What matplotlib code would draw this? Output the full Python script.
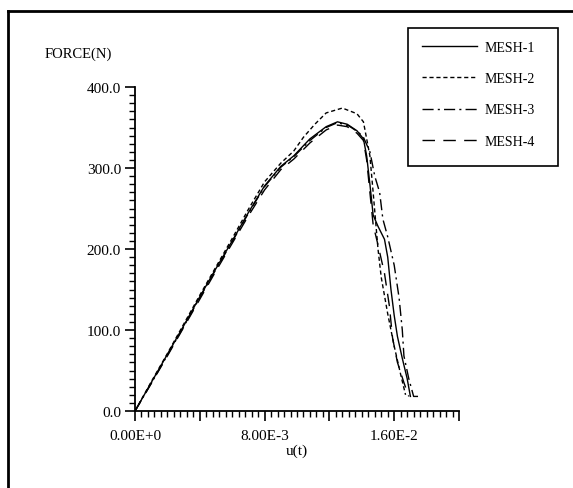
import matplotlib
matplotlib.use("Agg")
import matplotlib.pyplot as plt
from matplotlib.lines import Line2D
from matplotlib.patches import Rectangle
from matplotlib.ticker import MultipleLocator, FuncFormatter

plt.rcParams['font.family'] = ['Liberation Serif', 'DejaVu Serif']

# ---- data (u in m, force in N) ----
mesh1_u = [0, 0.001, 0.002, 0.003, 0.004, 0.005, 0.006, 0.007, 0.008, 0.009, 0.0098, 0.0108,
           0.0118, 0.0125, 0.0131, 0.0137, 0.0141, 0.0143, 0.0145, 0.0147, 0.0150, 0.0154,
           0.0156, 0.0158, 0.0160, 0.0162, 0.0165, 0.0168, 0.0170]
mesh1_f = [0, 35, 70, 105, 141, 176, 210, 245, 278, 302, 315, 336,
           351, 357, 354, 346, 336, 315, 280, 242, 228, 212,
           190, 150, 118, 92, 65, 40, 18]

mesh2_u = [0, 0.001, 0.002, 0.003, 0.004, 0.005, 0.006, 0.007, 0.008, 0.009, 0.0098, 0.0104,
           0.0111, 0.0118, 0.0128, 0.0137, 0.0141, 0.0143, 0.0145, 0.0147, 0.0150, 0.0152,
           0.0156, 0.0160, 0.0164, 0.0167]
mesh2_f = [0, 36, 71, 107, 143, 178, 213, 249, 283, 306, 321, 338,
           354, 368, 374, 367, 357, 336, 315, 270, 200, 165,
           120, 80, 45, 20]

mesh3_u = [0, 0.001, 0.002, 0.003, 0.004, 0.005, 0.006, 0.007, 0.008, 0.009, 0.0098, 0.0108,
           0.0118, 0.0125, 0.0132, 0.0138, 0.0141, 0.0145, 0.0148, 0.0151, 0.0153, 0.0156,
           0.0160, 0.0163, 0.0165, 0.0166, 0.0169, 0.0172, 0.0175]
mesh3_f = [0, 34, 69, 104, 140, 175, 209, 244, 277, 301, 314, 334,
           350, 356, 352, 344, 338, 320, 290, 270, 237, 215,
           180, 140, 100, 68, 40, 18, 18]

mesh4_u = [0, 0.001, 0.002, 0.003, 0.004, 0.005, 0.006, 0.007, 0.008, 0.009, 0.0098, 0.0108,
           0.0118, 0.0125, 0.0131, 0.0137, 0.0141, 0.0143, 0.0145, 0.0147, 0.0150, 0.0154,
           0.0157, 0.0159, 0.0162, 0.0166, 0.0169]
mesh4_f = [0, 34, 68, 103, 138, 173, 207, 241, 273, 298, 311, 331,
           347, 353, 351, 343, 334, 310, 270, 230, 205, 170,
           130, 90, 60, 35, 18]

labels = ["MESH-1", "MESH-2", "MESH-3", "MESH-4"]
x_tick_labels = {0: "0.00E+0", 2: "8.00E-3", 4: "1.60E-2"}

W, H = 573, 489
fig = plt.figure(figsize=(W / 100, H / 100), dpi=100)
ax = fig.add_axes([135 / W, 1 - 412 / H, (459 - 135) / W, (412 - 88) / H])

styles = [
    dict(linestyle='-'),
    dict(linestyle=(0, (3, 2))),
    dict(linestyle=(0, (8, 3, 1.5, 3))),
    dict(linestyle=(0, (9, 6))),
]
series = [(mesh1_u, mesh1_f), (mesh2_u, mesh2_f), (mesh3_u, mesh3_f), (mesh4_u, mesh4_f)]
handles = []
for (u, f), st, lab in zip(series, styles, labels):
    h, = ax.plot(u, f, color='black', linewidth=1.0, label=lab, **st)
    handles.append(h)

ax.set_xlim(0, 0.02)
ax.set_ylim(0, 400)
for s in ['top', 'right']:
    ax.spines[s].set_visible(False)
for s in ['left', 'bottom']:
    ax.spines[s].set_linewidth(1.3)

ax.xaxis.set_major_locator(MultipleLocator(0.004))
ax.xaxis.set_minor_locator(MultipleLocator(0.0004))
ax.yaxis.set_major_locator(MultipleLocator(100))
ax.yaxis.set_minor_locator(MultipleLocator(10))


def xfmt(v, pos):
    k = int(round(v / 0.004))
    return x_tick_labels.get(k, "")


ax.xaxis.set_major_formatter(FuncFormatter(xfmt))
ax.yaxis.set_major_formatter(FuncFormatter(lambda v, p: f"{v:.1f}"))
ax.tick_params(which='major', direction='out', length=7, width=1.2, labelsize=11, pad=3)
ax.tick_params(which='minor', direction='out', length=4, width=1.0)
ax.tick_params(axis='x', which='major', pad=6)

ax.set_xlabel("u(t)", fontsize=11, labelpad=1)
fig.text(45 / W, 1 - 54 / H, "FORCE(N)", fontsize=10.5, ha='left', va='center')

# legend box
fig.add_artist(Rectangle((408 / W, 1 - 167 / H), (558 - 408) / W, (167 - 29) / H,
                         transform=fig.transFigure, fill=False, edgecolor='black',
                         linewidth=1.2))
leg = ax.legend(handles=handles, loc='upper left',
                bbox_to_anchor=(416 / W, 1 - 36 / H), bbox_transform=fig.transFigure,
                frameon=False, fontsize=10,
                handlelength=4.0, labelspacing=1.33, borderpad=0.4, handletextpad=0.5,
                borderaxespad=0)

# outer partial frame (top and left edges)
fig.add_artist(Line2D([8 / W, 1], [1 - 12 / H, 1 - 12 / H], transform=fig.transFigure,
                      color='black', linewidth=2))
fig.add_artist(Line2D([8 / W, 8 / W], [0, 1 - 12 / H], transform=fig.transFigure,
                      color='black', linewidth=2))

fig.savefig("out.png", dpi=100)
